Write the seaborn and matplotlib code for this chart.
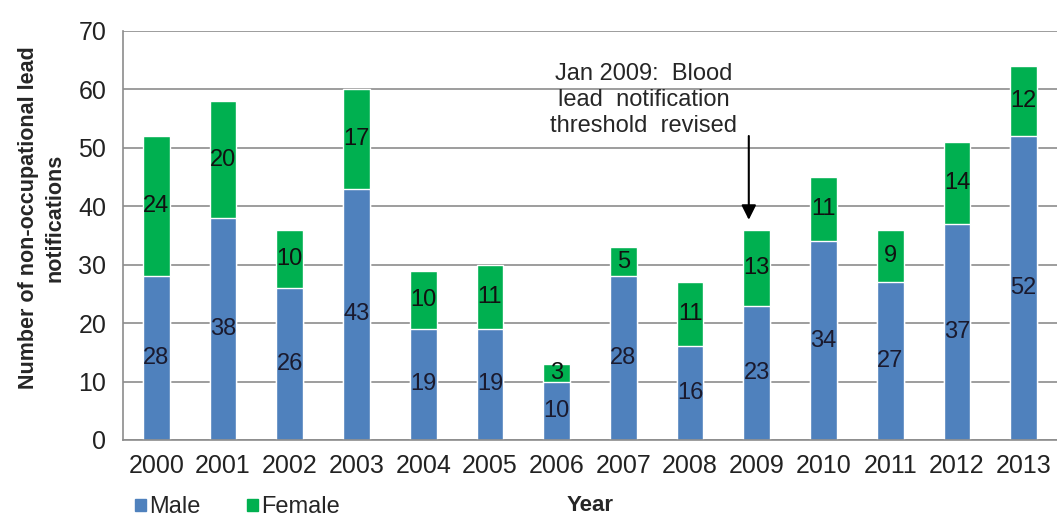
import numpy as np
import pandas as pd
import matplotlib
matplotlib.use("Agg")
import matplotlib.pyplot as plt
import seaborn as sns
from matplotlib.patches import Patch

years = [str(y) for y in range(2000, 2014)]
male = [28, 38, 26, 43, 19, 19, 10, 28, 16, 23, 34, 27, 37, 52]
female = [24, 20, 10, 17, 10, 11, 3, 5, 11, 13, 11, 9, 14, 12]

blue = "#4F81BD"
green = "#00B050"

sns.set_style("white")
plt.rcParams["font.family"] = ["Liberation Sans", "DejaVu Sans"]

df = pd.DataFrame({"year": years, "male": male, "female": female})
df["total"] = df["male"] + df["female"]

fig, ax = plt.subplots(figsize=(10.57, 5.25), dpi=100)
fig.subplots_adjust(left=0.1164, right=1.0, top=0.941, bottom=0.162)

# total first (green), male drawn over it (blue)
sns.barplot(data=df, x="year", y="total", color=green, saturation=1, width=0.4, ax=ax)
sns.barplot(data=df, x="year", y="male", color=blue, saturation=1, width=0.4, ax=ax)

for i, (m, f) in enumerate(zip(male, female)):
    ax.text(i, m / 2, str(m), ha="center", va="center", fontsize=17, color="#1a1a2e")
    ax.text(i, m + f / 2, str(f), ha="center", va="center", fontsize=17, color="#111111")

ax.set_ylim(0, 70)
ax.set_yticks(range(0, 71, 10))
ax.set_xlim(-0.5, len(years) - 0.5)
ax.yaxis.grid(True, color="#8c8c8c", linewidth=1.2)
ax.set_axisbelow(True)
for s in ["top", "right"]:
    ax.spines[s].set_visible(False)
ax.spines["left"].set_color("#8c8c8c")
ax.spines["bottom"].set_color("#8c8c8c")
ax.spines["left"].set_linewidth(1.2)
ax.spines["bottom"].set_linewidth(1.2)

ax.tick_params(axis="both", labelsize=18, colors="#222222")
ax.tick_params(axis="x", which="major", length=0, pad=10)
ax.tick_params(axis="y", which="major", length=6, width=1.2, color="#8c8c8c",
               direction="out", pad=6)
ax.set_xticks(np.arange(len(years)) + 0.5, minor=True)
ax.tick_params(axis="x", which="minor", length=6, width=1.2, color="#8c8c8c",
               direction="out")

ax.set_xlabel("Year", fontsize=16, fontweight="bold", labelpad=12)
ax.set_ylabel("Number of non-occupational lead\nnotifications", fontsize=15.5,
              fontweight="bold", linespacing=1.35)
ax.yaxis.set_label_coords(-0.062, 0.543)

ax.annotate("", xy=(8.88, 37.2), xytext=(8.88, 52.5),
            arrowprops=dict(arrowstyle="-|>", color="black", lw=1.5, mutation_scale=22))
ax.text(7.3, 58.2, "Jan 2009:  Blood\nlead  notification\nthreshold  revised",
        ha="center", va="center", fontsize=17, linespacing=1.25)

handles = [Patch(color=blue, label="Male"), Patch(color=green, label="Female")]
fig.legend(handles=handles, loc="lower left", bbox_to_anchor=(0.108, -0.028), ncol=2,
           frameon=False, fontsize=17, handlelength=0.45, handleheight=0.45,
           handletextpad=0.15, columnspacing=1.95)

fig.savefig("out.png", dpi=100)
